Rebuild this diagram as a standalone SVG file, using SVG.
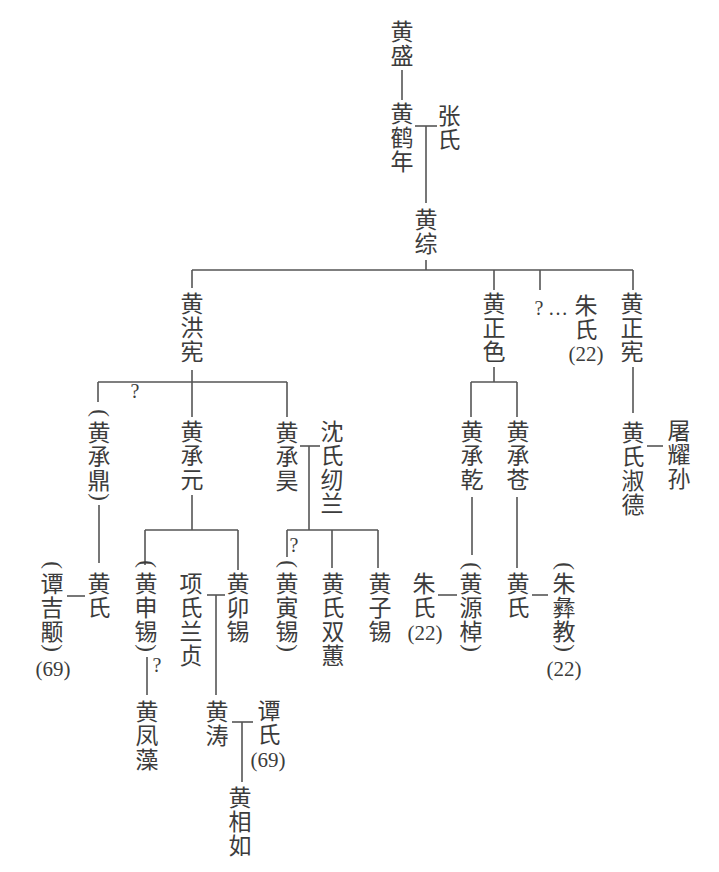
<svg xmlns="http://www.w3.org/2000/svg" width="719" height="872" viewBox="0 0 719 872">
<style>
.v{font-family:"Noto Sans CJK SC","Noto Sans CJK TC",sans-serif;font-size:23px;fill:#3c3c3c;writing-mode:vertical-rl;letter-spacing:1px}
.n{font-family:"Liberation Serif",serif;font-size:21px;fill:#3c3c3c;text-anchor:middle}
.q{font-family:"Liberation Serif",serif;font-size:20px;fill:#3c3c3c;text-anchor:middle}
.p{font-family:"Liberation Serif",serif;font-size:23px;fill:#3c3c3c;text-anchor:middle}
.c line{stroke:#555;stroke-width:1.6;fill:none}
</style>
<rect width="719" height="872" fill="#fff"/>
<g class="c" id="connectors">
<line x1="402" y1="70" x2="402" y2="100"/>
<line x1="415" y1="126" x2="437" y2="126"/>
<line x1="426" y1="126" x2="426" y2="203"/>
<line x1="426" y1="260" x2="426" y2="270"/>
<line x1="192" y1="270" x2="633" y2="270"/>
<line x1="192" y1="270" x2="192" y2="288"/>
<line x1="494" y1="270" x2="494" y2="290"/>
<line x1="540" y1="270" x2="540" y2="290"/>
<line x1="633" y1="270" x2="633" y2="290"/>
<line x1="192" y1="370" x2="192" y2="382"/>
<line x1="98" y1="382" x2="287" y2="382"/>
<line x1="98" y1="382" x2="98" y2="402"/>
<line x1="192" y1="382" x2="192" y2="417"/>
<line x1="287" y1="382" x2="287" y2="417"/>
<line x1="494" y1="367" x2="494" y2="382"/>
<line x1="471" y1="382" x2="517" y2="382"/>
<line x1="471" y1="382" x2="471" y2="417"/>
<line x1="517" y1="382" x2="517" y2="417"/>
<line x1="633" y1="367" x2="633" y2="413"/>
<line x1="647" y1="446" x2="663" y2="446"/>
<line x1="99" y1="505" x2="99" y2="563"/>
<line x1="67" y1="596" x2="85" y2="596"/>
<line x1="192" y1="495" x2="192" y2="530"/>
<line x1="145" y1="530" x2="238" y2="530"/>
<line x1="145" y1="530" x2="145" y2="565"/>
<line x1="238" y1="530" x2="238" y2="570"/>
<line x1="147" y1="657" x2="147" y2="695"/>
<line x1="207" y1="595" x2="225" y2="595"/>
<line x1="216" y1="595" x2="216" y2="695"/>
<line x1="232" y1="722" x2="253" y2="722"/>
<line x1="242" y1="722" x2="242" y2="782"/>
<line x1="300" y1="446" x2="320" y2="446"/>
<line x1="309" y1="446" x2="309" y2="530"/>
<line x1="287" y1="530" x2="378" y2="530"/>
<line x1="287" y1="530" x2="287" y2="557"/>
<line x1="332" y1="530" x2="332" y2="568"/>
<line x1="378" y1="530" x2="378" y2="568"/>
<line x1="472" y1="497" x2="472" y2="555"/>
<line x1="438" y1="595" x2="457" y2="595"/>
<line x1="517" y1="497" x2="517" y2="568"/>
<line x1="532" y1="595" x2="548" y2="595"/>
</g>
<g id="huang-sheng"><text class="v" x="402" y="19.5">黄盛</text></g>
<g id="huang-henian"><text class="v" x="402" y="101.5">黄鹤年</text></g>
<g id="zhang-shi"><text class="v" x="449" y="103.5">张氏</text></g>
<g id="huang-zong"><text class="v" x="426" y="207.5">黄综</text></g>
<g id="huang-hongxian"><text class="v" x="192" y="291.5">黄洪宪</text></g>
<g id="huang-zhengse"><text class="v" x="494" y="291.5">黄正色</text></g>
<g id="zhu-shi-1"><text class="q" x="539" y="315">?</text><text class="q" x="558" y="315">…</text><text class="v" x="586" y="293.5">朱氏</text><text class="n" x="586" y="361">(22)</text></g>
<g id="huang-zhengxian"><text class="v" x="632" y="291.5">黄正宪</text></g>
<g id="huang-shi-shude"><text class="v" x="633" y="420.5">黄氏淑德</text></g>
<g id="tu-yaosun"><text class="v" x="679" y="418.5">屠耀孙</text></g>
<g id="q1"><text class="q" x="135" y="398">?</text></g>
<g id="huang-chengding"><text class="p" x="99" y="419" transform="rotate(90 99 413)">(</text><text class="v" x="99" y="420.5">黄承鼎</text><text class="p" x="99" y="503" transform="rotate(90 99 497)">)</text></g>
<g id="huang-shi-1"><text class="v" x="99" y="571.5">黄氏</text></g>
<g id="tan-jiyong"><text class="p" x="52" y="571" transform="rotate(90 52 565)">(</text><text class="v" x="52" y="571.5">谭吉颙</text><text class="p" x="52" y="654" transform="rotate(90 52 648)">)</text><text class="n" x="53" y="676">(69)</text></g>
<g id="huang-chengyuan"><text class="v" x="192" y="419.5">黄承元</text></g>
<g id="huang-shenxi"><text class="p" x="146" y="570" transform="rotate(90 146 564)">(</text><text class="v" x="146" y="571.5">黄申锡</text><text class="p" x="146" y="654" transform="rotate(90 146 648)">)</text><text class="q" x="157" y="672">?</text></g>
<g id="huang-fengzao"><text class="v" x="147" y="699.5">黄凤藻</text></g>
<g id="xiang-shi-lanzhen"><text class="v" x="191" y="571.5">项氏兰贞</text></g>
<g id="huang-maoxi"><text class="v" x="238" y="571.5">黄卯锡</text></g>
<g id="huang-tao"><text class="v" x="217" y="699.5">黄涛</text></g>
<g id="tan-shi"><text class="v" x="269" y="698.5">谭氏</text><text class="n" x="268" y="767">(69)</text></g>
<g id="huang-xiangru"><text class="v" x="240" y="785.5">黄相如</text></g>
<g id="huang-chenghao"><text class="v" x="287" y="420.5">黄承昊</text></g>
<g id="shen-shi-renlan"><text class="v" x="332" y="419.5">沈氏纫兰</text></g>
<g id="huang-yinxi"><text class="q" x="294" y="552">?</text><text class="p" x="287" y="570" transform="rotate(90 287 564)">(</text><text class="v" x="287" y="571.5">黄寅锡</text><text class="p" x="287" y="654" transform="rotate(90 287 648)">)</text></g>
<g id="huang-shi-shuanghui"><text class="v" x="333" y="571.5">黄氏双蕙</text></g>
<g id="huang-zixi"><text class="v" x="380" y="571.5">黄子锡</text></g>
<g id="huang-chengqian"><text class="v" x="472" y="419.5">黄承乾</text></g>
<g id="huang-yuanzhuo"><text class="p" x="471" y="572" transform="rotate(90 471 566)">(</text><text class="v" x="471" y="571.5">黄源棹</text><text class="p" x="471" y="654" transform="rotate(90 471 648)">)</text></g>
<g id="zhu-shi-2"><text class="v" x="424" y="571.5">朱氏</text><text class="n" x="425" y="640">(22)</text></g>
<g id="huang-chengcang"><text class="v" x="518" y="419.5">黄承苍</text></g>
<g id="huang-shi-2"><text class="v" x="518" y="571.5">黄氏</text></g>
<g id="zhu-yijiao"><text class="p" x="564" y="572" transform="rotate(90 564 566)">(</text><text class="v" x="564" y="571.5">朱彝教</text><text class="p" x="564" y="654" transform="rotate(90 564 648)">)</text><text class="n" x="564" y="676">(22)</text></g>
</svg>
